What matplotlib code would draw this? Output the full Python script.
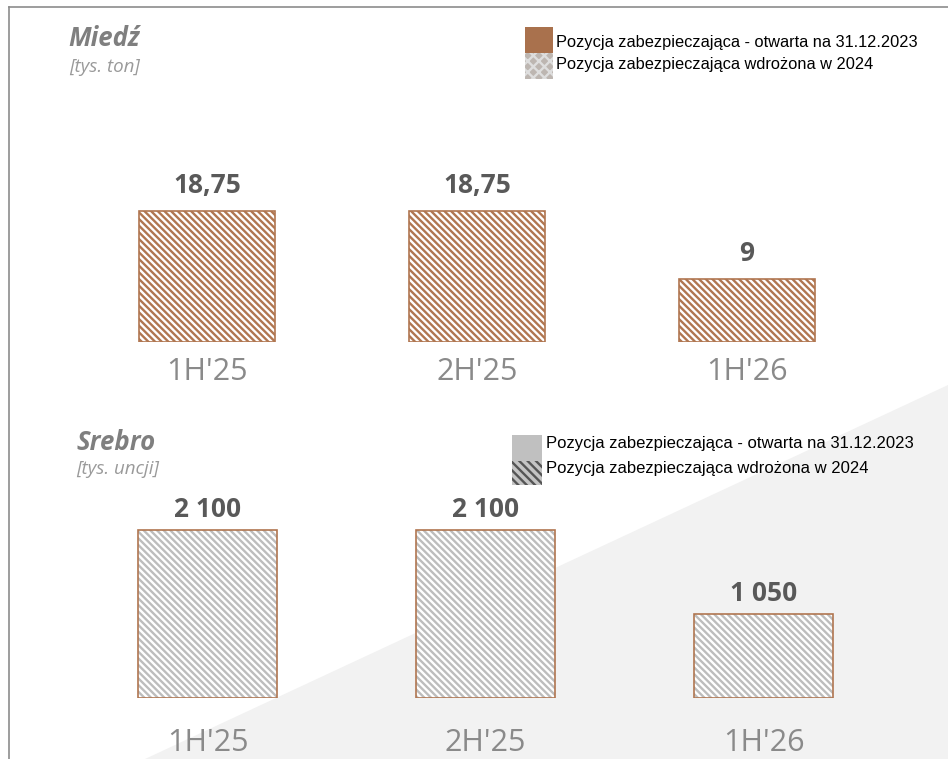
import matplotlib
matplotlib.use("Agg")
import matplotlib.pyplot as plt
from matplotlib.patches import Rectangle, Polygon
from matplotlib.lines import Line2D

# data
periods = ["1H'25", "2H'25", "1H'26"]
copper = [18.75, 18.75, 9]          # tys. ton
silver = [2100, 2100, 1050]         # tys. uncji
legend_labels = ["Pozycja zabezpieczająca - otwarta na 31.12.2023",
                 "Pozycja zabezpieczająca wdrożona w 2024"]

# colours
BROWN = "#b07650"
SILVER = "#bdbdbd"
TITLE_C = "#7f7f7f"
VALUE_C = "#595959"
CAT_C = "#8a8a8a"

plt.rcParams["hatch.linewidth"] = 1.7

W, H = 948, 759
fig = plt.figure(figsize=(W / 100, H / 100), dpi=100)


def fx(x):
    return x / W


def fy(y):
    return 1 - y / H


# light grey background triangle + frame
fig.add_artist(Polygon([(fx(145), fy(759)), (fx(948), fy(385)), (fx(948), fy(759))],
                       closed=True, transform=fig.transFigure,
                       facecolor="#f2f2f2", edgecolor="none", zorder=0))
fig.add_artist(Line2D([fx(9), fx(948)], [fy(7), fy(7)], color="#8c8c8c", lw=1.2,
                      transform=fig.transFigure))
fig.add_artist(Line2D([fx(9), fx(9)], [fy(7), fy(759)], color="#8c8c8c", lw=1.2,
                      transform=fig.transFigure))


def fmt_copper(v):
    return f"{v:g}".replace(".", ",")


def fmt_silver(v):
    return f"{v:,.0f}".replace(",", " ")


HATCH = "\\" * 5

# ---------------- copper ----------------
ax1 = fig.add_axes([fx(72), fy(342), fx(810), 174.7 / H])
ax1.set_xlim(-0.5, 2.5)
ax1.set_ylim(0, 25)
ax1.axis("off")
x = range(len(periods))
ax1.bar(x, copper, width=0.504, color="white", edgecolor=BROWN, hatch=HATCH,
        linewidth=1.2)
for i, v in enumerate(copper):
    ax1.annotate(fmt_copper(v), xy=(i, v), xytext=(0, 18), textcoords="offset pixels",
                 ha="center", va="baseline", fontsize=19, fontweight="bold",
                 family="Open Sans", color=VALUE_C)
    ax1.annotate(periods[i], xy=(i, 0), xytext=(0, -30), textcoords="offset pixels",
                 ha="center", va="center", fontsize=22, family="Open Sans", color=CAT_C)

# ---------------- silver ----------------
ax2 = fig.add_axes([fx(68.5), fy(698), fx(834), 224 / H])
ax2.set_xlim(-0.5, 2.5)
ax2.set_ylim(0, 2800)
ax2.axis("off")
ax2.bar(x, silver, width=0.5, color="white", edgecolor=SILVER, hatch=HATCH,
        linewidth=0)
ax2.bar(x, silver, width=0.5, fill=False, edgecolor=BROWN, linewidth=1.2)
for i, v in enumerate(silver):
    ax2.annotate(fmt_silver(v), xy=(i, v), xytext=(0, 13), textcoords="offset pixels",
                 ha="center", va="baseline", fontsize=19, fontweight="bold",
                 family="Open Sans", color=VALUE_C)
    ax2.annotate(periods[i], xy=(i, 0), xytext=(0, -45), textcoords="offset pixels",
                 ha="center", va="center", fontsize=22, family="Open Sans", color=CAT_C)

# titles
fig.text(fx(68), fy(46), "Miedź", fontsize=18.5, fontweight="bold", fontstyle="italic",
         family="Open Sans", color=TITLE_C, va="baseline")
fig.text(fx(69), fy(72), "[tys. ton]", fontsize=13.5, fontstyle="italic",
         family="Open Sans", color="#9a9a9a", va="baseline")
fig.text(fx(76), fy(450), "Srebro", fontsize=18.5, fontweight="bold", fontstyle="italic",
         family="Open Sans", color=TITLE_C, va="baseline")
fig.text(fx(76), fy(474), "[tys. uncji]", fontsize=13.5, fontstyle="italic",
         family="Open Sans", color="#9a9a9a", va="baseline")


# legends
def rect(x0, y0, x1, y1, **kw):
    fig.add_artist(Rectangle((fx(x0), fy(y1)), fx(x1 - x0), (y1 - y0) / H,
                             transform=fig.transFigure, **kw))


rect(525, 27, 553, 53, facecolor="#a9714d", edgecolor="none")
rect(525, 53, 553, 79, facecolor="#bdb6b1", edgecolor="#dedede", hatch="xxx",
     linewidth=0)
fig.text(fx(556), fy(42), legend_labels[0], fontsize=11.8, family="Liberation Sans",
         va="center")
fig.text(fx(556), fy(65), legend_labels[1], fontsize=11.8, family="Liberation Sans",
         va="center")

rect(512, 435, 542, 461, facecolor="#c0c0c0", edgecolor="none")
rect(512, 461, 542, 485, facecolor="#c4c4c4", edgecolor="#555555", hatch="\\" * 4,
     linewidth=0)
fig.text(fx(546), fy(444), legend_labels[0], fontsize=12, family="Liberation Sans",
         va="center")
fig.text(fx(546), fy(469), legend_labels[1], fontsize=12, family="Liberation Sans",
         va="center")

fig.savefig("out.png", dpi=100)
